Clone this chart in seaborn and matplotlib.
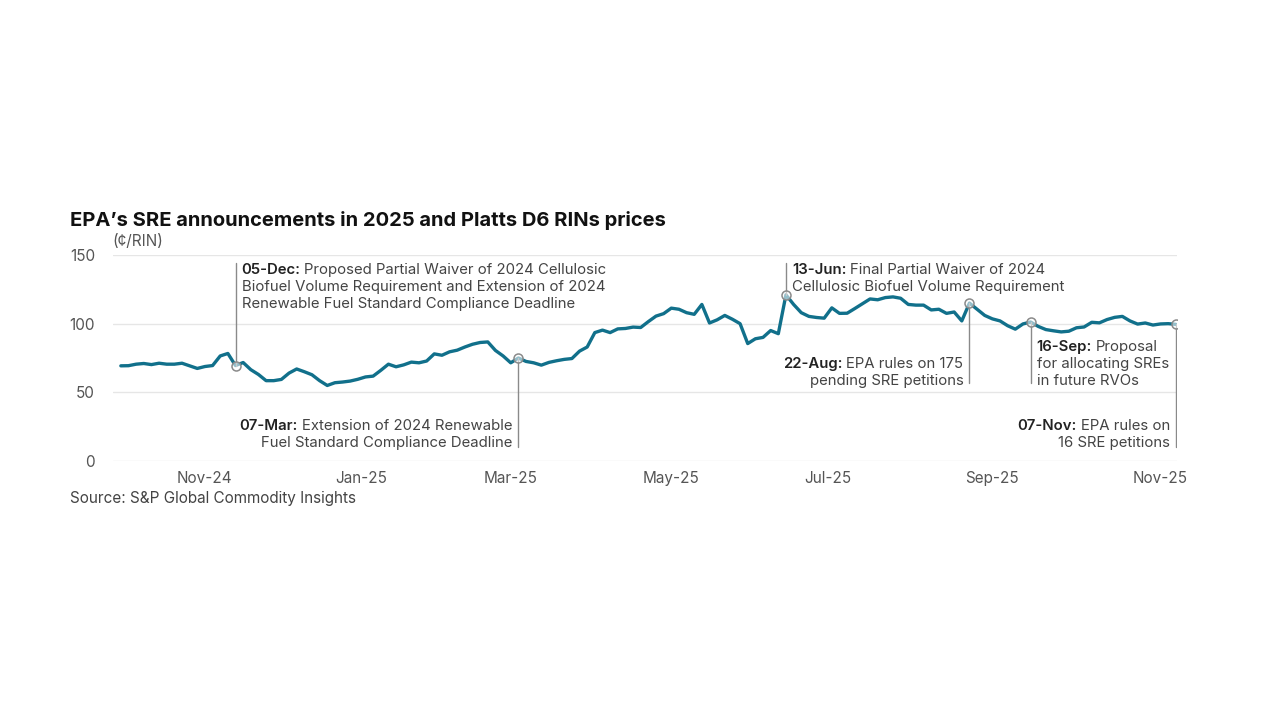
import numpy as np
import pandas as pd
import matplotlib
matplotlib.use("Agg")
import matplotlib.pyplot as plt
import seaborn as sns
from matplotlib.transforms import IdentityTransform

# ---------------- data ----------------
start_date = "2024-10-01"
end_date = "2025-11-07"
market_holidays = ["2024-11-28", "2024-12-25", "2025-01-01", "2025-01-09",
                   "2025-01-20", "2025-02-17", "2025-04-18", "2025-05-26",
                   "2025-06-19", "2025-07-04", "2025-09-01"]

# Platts D6 RIN price (cents/RIN), every second trading day, ending on end_date
prices = [
    69.3, 69.4, 70.5, 71.0, 70.2, 71.2, 70.5, 70.5, 71.2, 69.3,
    67.4, 68.8, 69.5, 76.5, 78.3, 69.5, 71.7, 66.5, 63.0, 58.5,
    58.5, 59.4, 64.0, 67.0, 65.0, 62.8, 58.5, 55.0, 57.0, 57.5,
    58.2, 59.5, 61.2, 61.8, 66.0, 70.5, 68.6, 70.0, 72.0, 71.5,
    72.8, 78.0, 77.0, 79.5, 80.7, 83.0, 85.0, 86.3, 86.7, 80.5,
    76.5, 71.5, 75.0, 72.5, 71.5, 69.8, 71.8, 73.0, 74.0, 74.6,
    80.0, 83.0, 93.5, 95.3, 93.5, 96.2, 96.5, 97.5, 97.2, 101.5,
    105.5, 107.3, 111.3, 110.5, 108.0, 106.8, 114.0, 100.5, 102.8, 106.0,
    103.2, 100.0, 85.5, 89.0, 90.0, 95.0, 92.7, 121.0, 114.0, 108.0,
    105.3, 104.5, 104.0, 111.5, 107.5, 107.6, 111.0, 114.5, 118.0, 117.4,
    119.0, 119.5, 118.5, 114.0, 113.5, 113.5, 110.0, 110.5, 107.5, 108.5,
    102.0, 115.0, 110.5, 106.0, 103.5, 102.0, 98.5, 96.0, 99.8, 101.2,
    98.0, 95.7, 94.8, 94.0, 94.5, 97.0, 97.6, 101.0, 100.6, 103.0,
    104.6, 105.3, 102.0, 99.7, 100.5, 99.0, 99.8, 100.0, 99.5,
]

tick_months = ["2024-11", "2025-01", "2025-03", "2025-05", "2025-07", "2025-09", "2025-11"]
tick_labels = ["Nov-24", "Jan-25", "Mar-25", "May-25", "Jul-25", "Sep-25", "Nov-25"]
y_ticks = [0, 50, 100, 150]

event_dates = ["2024-11-13", "2025-03-05", "2025-06-13", "2025-08-22", "2025-09-16", "2025-11-07"]
event_heads = ["05-Dec:", "07-Mar:", "13-Jun:", "22-Aug:", "16-Sep:", "07-Nov:"]
event_texts = [
    ["Proposed Partial Waiver of 2024 Cellulosic",
     "Biofuel Volume Requirement and Extension of 2024",
     "Renewable Fuel Standard Compliance Deadline"],
    ["Extension of 2024 Renewable",
     "Fuel Standard Compliance Deadline"],
    ["Final Partial Waiver of 2024",
     "Cellulosic Biofuel Volume Requirement"],
    ["EPA rules on 175",
     "pending SRE petitions"],
    ["Proposal",
     "for allocating SREs",
     "in future RVOs"],
    ["EPA rules on",
     "16 SRE petitions"],
]

title = "EPA\u2019s SRE announcements in 2025 and Platts D6 RINs prices"
unit = "(\u00a2/RIN)"
source = "Source: S&P Global Commodity Insights"

# ---------------- styling ----------------
sns.set_theme(style="white")
plt.rcParams["font.family"] = ["Inter", "DejaVu Sans"]

LINE = "#11708b"
GRID = "#e6e6e6"
TICK = "#555555"
TXT = "#444444"
HEAD = "#222222"

trading_days = pd.bdate_range(start_date, end_date, freq="C", holidays=market_holidays)
n_days = len(trading_days)
sample_pos = np.array(sorted(n_days - 1 - 2 * i for i in range(len(prices))))
df = pd.DataFrame({"pos": sample_pos, "date": trading_days[sample_pos], "price": prices})

W, H = 1280, 720
fig = plt.figure(figsize=(12.8, 7.2), dpi=100)
ax = fig.add_axes([113 / W, 1 - 461 / H, (1177 - 113) / W, (461 - 255) / H])

sns.lineplot(data=df, x="pos", y="price", color=LINE, lw=2.4, ax=ax, zorder=3)

ax.set_xlim(-1.05, n_days - 1 + 0.3)
ax.set_ylim(0, 150)
ax.set_yticks(y_ticks)
ax.set_yticklabels([str(v) for v in y_ticks])
month_str = trading_days.strftime("%Y-%m")
tick_pos = [int(np.argmax(month_str == m)) for m in tick_months]
ax.set_xticks(tick_pos)
ax.set_xticklabels(tick_labels)
ax.set_xlabel("")
ax.set_ylabel("")
for s in ax.spines.values():
    s.set_visible(False)
ax.yaxis.grid(True, color=GRID, lw=1.0, zorder=0)
ax.xaxis.grid(False)
ax.tick_params(axis="x", length=0, pad=7, labelsize=11, labelcolor=TICK)
ax.tick_params(axis="y", length=0, pad=13, labelsize=11, labelcolor=TICK)

# events
ev_pos = np.array([trading_days.get_loc(pd.Timestamp(d)) for d in event_dates])
ev_val = np.interp(ev_pos, df["pos"], df["price"])

# layout of annotations: side of text, baseline (data y) of first line, end of leader (data y)
ann_layout = [
    dict(side="left", text_y=136.0, end_y=144.5),
    dict(side="right", text_y=22.8, end_y=10.5),
    dict(side="left", text_y=136.0, end_y=144.5),
    dict(side="right", text_y=67.5, end_y=56.5),
    dict(side="left", text_y=79.8, end_y=56.5),
    dict(side="right", text_y=22.8, end_y=10.5),
]

for p, v, lay in zip(ev_pos, ev_val, ann_layout):
    ax.plot([p, p], [v, lay["end_y"]], color="#8a8a8a", lw=1.0, zorder=4)
ax.scatter(ev_pos, ev_val, s=42, facecolor=(1, 1, 1, 0.55), edgecolor="#8a8a8a",
           linewidth=1.1, zorder=5)

fig.canvas.draw()
renderer = fig.canvas.get_renderer()
idt = IdentityTransform()
FS = 10.75
LS = 17.0
GAP = 6.0
SPACE = 3.8

for p, head, lines, lay in zip(ev_pos, event_heads, event_texts, ann_layout):
    xd, yd = ax.transData.transform((p, lay["text_y"]))
    for i, line in enumerate(lines):
        y = yd - LS * i
        if lay["side"] == "left":
            x = xd + GAP
            if i == 0:
                t1 = fig.text(x, y, head, transform=idt, ha="left", va="baseline",
                              fontsize=FS, weight="semibold", color=HEAD)
                w = t1.get_window_extent(renderer).width
                fig.text(x + w + SPACE, y, line, transform=idt, ha="left", va="baseline",
                         fontsize=FS, color=TXT)
            else:
                fig.text(x, y, line, transform=idt, ha="left", va="baseline",
                         fontsize=FS, color=TXT)
        else:
            x = xd - GAP
            t2 = fig.text(x, y, line, transform=idt, ha="right", va="baseline",
                          fontsize=FS, color=TXT)
            if i == 0:
                w = t2.get_window_extent(renderer).width
                fig.text(x - w - SPACE, y, head, transform=idt, ha="right", va="baseline",
                         fontsize=FS, weight="semibold", color=HEAD)

fig.text(70 / W, 1 - 226 / H, title, fontsize=14.5, weight="bold", color="#111111",
         ha="left", va="baseline")
fig.text(112 / W, 1 - 246 / H, unit, fontsize=11, color=TICK, ha="left", va="baseline")
fig.text(70 / W, 1 - 503 / H, source, fontsize=11, color=TXT, ha="left", va="baseline")

fig.savefig("out.png", dpi=100, facecolor="white")
